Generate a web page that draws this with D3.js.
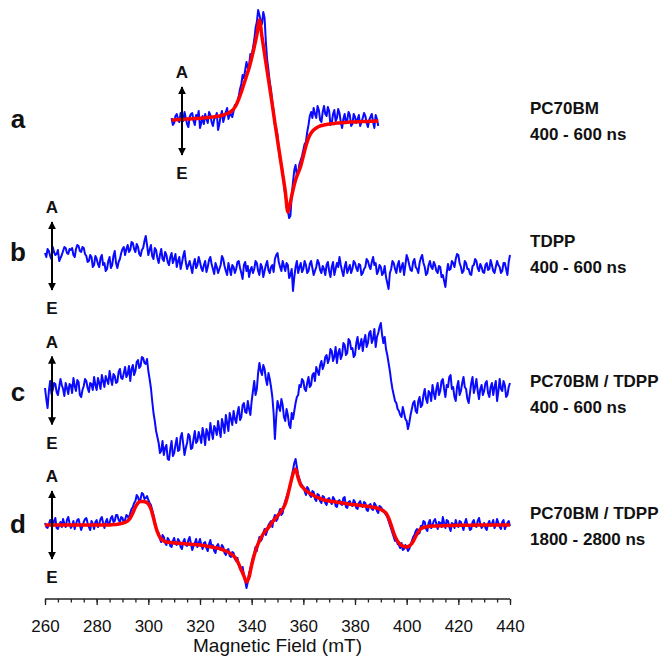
<!DOCTYPE html>
<html>
<head>
<meta charset="utf-8">
<script src="https://cdnjs.cloudflare.com/ajax/libs/d3/7.8.5/d3.min.js"></script>
<style>
body { margin: 0; background: #fff; }
svg { display: block; }
text { font-family: "Liberation Sans", Arial, Helvetica, sans-serif; fill: #111; }
</style>
</head>
<body>
<div id="chart"></div>
<script>
var w = 666, h = 657;

// field axis (mT)
var fieldMin = 260, fieldMax = 440;
var majorTicks = [260, 280, 300, 320, 340, 360, 380, 400, 420, 440];
var startA = 309;      // first field point of trace a
var startBCD = 260;    // first field point of traces b, c, d
var stepBlue = 0.5;    // measured traces, mT per point
var stepRed = 1;       // fits, mT per point

// trEPR signal, arbitrary units (positive = absorption)
var blueA = [2,-5,-3,4,6,1,-2,7,4,-1, 8,2,-4,-7,3,6,7,-1,-5,5,
    2,9,-8,-3,4,-4,6,1,-3,8, 5,-2,-6,1,3,7,-10,-4,4,9,
    -2,3,8,12,1,5,6,3,9,15, 14,18,24,31,36,45,42,50,58,52,
    55,66,64,72,80,92,98,110,105,99, 96,108,102,78,60,50,38,30,18,8,
    -5,-8,-15,-30,-40,-44,-52,-66,-75,-80, -90,-98,-96,-75,-62,-50,-45,-56,-52,-44,
    -40,-36,-30,-24,-22,-12,-5,4,8,2, 12,6,2,14,10,0,-2,8,14,6,
    4,13,9,-5,-3,6,10,-1,2,11, 7,-2,-8,1,6,-3,0,8,5,-6,
    -4,6,3,-3,1,5,-6,-2,2,7, 4,-3,-7,0,3,6,-2,-8,5,1, -6];
var redA = [0,0,0.3,0.5,0.6,0.8,1,1,1.2,1.4, 1.5,1.7,2,2.2,2.5,2.8,3,3.4,3.8,4.3,
    5,5.8,7,8.5,11,15,21,28,36,44, 52,62,73,85,100,83,66,49,32,15,
    -3,-20,-37,-54,-71,-92,-82,-70,-60,-53, -46,-36,-26,-18,-13,-10,-8,-6.5,-5.5,-5,
    -4.5,-4,-3.7,-3.4,-3.1,-2.9,-2.7,-2.5,-2.3,-2.1, -2,-1.9,-1.8,-1.7,-1.6,-1.5,-1.4,-1.3,-1.2,-1.1, -1];
var blueB = [0,-4,4,2,-3,-6,6,1,-2,-1,3,-8,-5,-2,2,6,5,0,-1,4,
    3,5,-2,-4,4,8,7,2,1,6,5,-1,-3,-9,-8,-2,-4,-14,-12,-3,
    -6,-11,-14,-5,-2,-12,-10,-18,-16,-8,-4,-15,-12,-3,2,-10,-15,-9,-6,0,
    4,6,-2,4,8,1,3,11,10,4,1,9,6,-1,-3,3,5,12,17,8,
    -2,3,8,-3,-6,5,3,-5,-10,-2,4,-6,-8,1,-2,-9,-12,-4,0,-10,
    -6,-1,-14,-8,-4,-16,-10,-3,2,-9,-16,-12,-8,-14,-20,-11,-6,-15,-12,-4,
    -9,-15,-18,-12,-8,-19,-14,-7,-4,-11,-16,-21,-10,-14,-20,-16,-12,-3,-6,-13,
    -18,-22,-10,-16,-22,-12,-14,-20,-16,-9,-8,-15,-20,-26,-12,-9,-18,-13,-24,-17,
    -14,-20,-16,-8,-10,-18,-22,-11,-14,-24,-18,-12,-8,-17,-20,-14,-12,-19,-6,-2,
    0,-9,-14,-18,-8,-13,-18,-10,-12,-25,-22,-16,-38,-24,-14,-8,-20,-14,-10,-19,
    -16,-8,-12,-20,-18,-11,-8,-15,-22,-18,-14,-7,-10,-17,-20,-13,-16,-22,-12,-9,
    -18,-24,-14,-9,-22,-16,-10,-14,-4,-12,-18,-23,-14,-9,-20,-16,-12,-20,-16,-8,
    -10,-15,-18,-11,-12,-22,-20,-16,-14,-6,-8,-13,-16,-9,-4,-12,-10,-21,-18,-12,
    -14,-22,-20,-13,-24,-30,-36,-20,-16,-8,-10,-16,-20,-12,-8,-19,-14,-10,-22,-12,
    -2,-6,-12,-17,-18,-9,-6,-14,-16,-20,-10,-5,-2,-10,-14,-22,-20,-12,-8,-14,
    -16,-9,-12,-18,-20,-13,-14,-24,-22,-28,-34,-20,-11,-17,-16,-8,-10,-14,-6,-1,
    -2,-10,-14,-20,-18,-8,-10,-16,-16,-21,-22,-13,-12,-6,-8,-15,-18,-11,-14,-19,
    -20,-12,-10,-17,-16,-7,-12,-18,-20,-14,-8,-12,-14,-20,-18,-10,-10,-16,-22,-9,
    -2];
var blueC = [5,-6,-15,2,12,-1,3,10,9,1,-2,6,14,8,4,-3,10,5,-1,9,
    8,0,15,7,2,13,11,-2,-4,3,7,14,12,5,1,10,9,3,16,8,
    3,15,10,4,18,12,6,17,13,9,22,14,8,19,17,10,11,21,24,15,
    14,20,26,16,19,27,12,24,28,18,22,31,33,25,27,36,35,30,29,34,
    22,14,5,-8,-20,-28,-38,-44,-50,-60,-58,-48,-62,-55,-52,-66,-67,-56,-48,-63,
    -60,-52,-45,-58,-57,-44,-40,-51,-62,-55,-50,-41,-43,-56,-55,-46,-38,-50,-48,-39,
    -44,-50,-35,-42,-52,-36,-40,-47,-30,-39,-46,-33,-36,-42,-28,-37,-44,-26,-32,-40,
    -22,-30,-38,-20,-26,-32,-18,-26,-30,-20,-14,-27,-24,-12,-10,-19,-20,-8,-16,-22,
    -8,2,12,-2,4,20,30,22,18,28,24,14,8,20,14,6,-4,-20,-46,-24,
    -8,-14,-18,-6,-12,-24,-28,-16,-22,-32,-35,-20,-26,-18,-10,-4,-2,8,6,14,
    12,4,2,10,16,6,8,18,20,12,26,22,18,28,32,24,28,36,38,30,
    34,44,42,32,36,46,30,40,44,34,38,50,48,38,40,54,52,44,45,36,
    38,50,56,44,48,54,42,52,58,46,50,60,62,50,54,64,46,56,60,66,
    70,58,50,56,44,38,30,22,12,4,-2,-8,-10,-16,-18,-22,-24,-14,-20,-26,
    -28,-36,-30,-22,-16,-10,-8,-18,-20,-8,-4,-14,-12,-2,4,-6,-10,2,0,-8,
    8,0,-6,4,10,-2,2,12,14,4,-4,8,6,16,18,4,6,-4,-8,6,
    12,-2,2,10,16,6,4,-6,-10,0,10,16,0,6,14,2,-6,4,8,-2,
    2,10,12,0,-4,6,10,-2,6,12,-8,2,14,4,2,12,8,-4,-2,6,
    10];
var blueD = [2,-2,-3,1,5,2,-1,4,7,-3,-4,0,3,-2,6,1,-2,5,8,2,
    -3,-1,4,-4,1,5,6,0,-5,-1,3,6,7,2,-2,-5,4,1,-4,3,
    5,-2,1,6,8,2,-3,3,6,0,2,7,9,3,4,10,10,5,3,8,
    7,2,5,10,9,6,12,16,18,22,24,30,28,23,26,32,31,26,27,29,
    25,22,20,15,10,3,-2,-6,-8,-14,-17,-10,-12,-18,-20,-13,-15,-21,-22,-16,
    -13,-19,-20,-14,-16,-22,-24,-17,-14,-20,-21,-15,-12,-19,-25,-21,-18,-14,-22,-18,
    -14,-20,-24,-18,-17,-23,-26,-19,-15,-22,-20,-26,-28,-21,-19,-24,-25,-20,-22,-28,
    -30,-25,-24,-31,-32,-27,-28,-34,-36,-33,-40,-44,-46,-42,-50,-56,-63,-57,-48,-44,
    -38,-32,-28,-22,-26,-18,-12,-16,-14,-8,-4,-10,-6,0,2,4,-2,6,10,4,
    6,12,16,10,12,20,24,28,32,36,40,48,55,62,66,58,50,46,42,40,
    38,34,30,38,36,30,28,34,33,26,24,31,30,24,22,29,28,22,20,26,
    27,23,21,28,26,19,18,24,25,21,20,27,28,18,17,23,24,20,19,25,
    23,17,16,22,24,19,18,23,22,15,14,20,21,16,15,22,20,14,12,19,
    18,16,15,12,10,8,4,0,-4,-8,-12,-16,-14,-19,-20,-23,-18,-25,-24,-20,
    -22,-26,-24,-20,-16,-12,-10,-6,-4,-9,-8,-1,-2,4,3,-4,-6,2,5,-3,
    0,4,6,1,-4,3,2,-2,8,2,-3,5,4,-2,-6,2,1,-3,5,0,
    -2,4,3,-1,-5,2,6,0,0,-5,-4,3,5,-1,-2,4,7,1,-3,-1,
    2,-3,-5,1,4,-1,1,5,-3,0,6,2,-2,-4,3,5,-4,-1,2,4,
    -1];
var redD = [0,0,0,0,0,0,0,0,0,0, 0,0,0,0,0,0,0,0,0,0,
    0,0,0,0,0,0,0.3,0.5,0.8,1.2, 1.8,2.6,4,7,12,18,22,23.5,23.5,23,
    21,16,7,-3,-10,-14,-16,-17,-17.3,-17.6, -17.9,-18.1,-18.3,-18.5,-18.7,-18.9,-19.2,-19.4,-19.6,-19.8,
    -20,-20.4,-20.8,-21.2,-21.7,-22.2,-22.7,-23.3,-24,-25, -26,-27.2,-28.8,-31,-34,-39,-45,-51,-57,-52,
    -40,-30,-22,-16,-11,-7,-4,-1,3,6, 9,12,16,21,30,41,51,56,47,40,
    37,34.5,32.5,31,29.5,28,27,26,25,24.5, 24,23.6,23.2,22.8,22.4,22,21.6,21.2,20.8,20.5,
    20.2,19.9,19.6,19.3,19,18.6,18.2,17.8,17.3,16.5, 15.5,14,12,7,0,-8,-14,-18,-20.5,-21.5,
    -22,-21,-18.5,-14,-9,-5,-3,-2,-1.6,-1.3, -1.1,-1,-0.9,-0.8,-0.7,-0.6,-0.5,-0.5,-0.4,-0.4,
    -0.3,-0.3,-0.3,-0.2,-0.2,-0.2,-0.2,-0.1,-0.1,-0.1, 0,0,0,0,0,0,0,0,0,0, 0];

var panelLetters = ["a", "b", "c", "d"];
var sampleNames = ["PC70BM", "TDPP", "PC70BM / TDPP", "PC70BM / TDPP"];
var timeWindows = ["400 - 600 ns", "400 - 600 ns", "400 - 600 ns", "1800 - 2800 ns"];

function toPoints(vals, start, step) {
    return vals.map(function(v, i) { return { f: start + i * step, v: v }; });
}

var panels = [
    { blue: toPoints(blueA, startA, stepBlue), red: toPoints(redA, startA, stepRed) },
    { blue: toPoints(blueB, startBCD, stepBlue), red: null },
    { blue: toPoints(blueC, startBCD, stepBlue), red: null },
    { blue: toPoints(blueD, startBCD, stepBlue), red: toPoints(redD, startBCD, stepRed) }
];

// layout
var base = [120, 253, 393, 525];
var arrowX = [182, 52, 52, 52];
var arrowMid = [121, 256, 390.5, 525];
var arrowHalf = 34;
var axisY = 599;

var svg = d3.select("#chart")
    .append("svg")
    .attr("width", w)
    .attr("height", h);

svg.append("defs")
    .append("marker")
    .attr("id", "head")
    .attr("viewBox", "0 0 10 10")
    .attr("refX", 9)
    .attr("refY", 5)
    .attr("markerUnits", "userSpaceOnUse")
    .attr("markerWidth", 8)
    .attr("markerHeight", 8)
    .attr("orient", "auto-start-reverse")
    .append("path")
    .attr("d", "M0,0 L10,5 L0,10 z")
    .attr("fill", "#000");

var x = d3.scaleLinear()
    .domain([fieldMin, fieldMax])
    .range([45, 510]);

panels.forEach(function(p, i) {
    var y = d3.scaleLinear()
        .domain([-100, 100])
        .range([base[i] + 100, base[i] - 100]);
    var line = d3.line()
        .x(function(d) { return x(d.f); })
        .y(function(d) { return y(d.v); });

    var g = svg.append("g").attr("class", "panel");

    g.append("path")
        .datum(p.blue)
        .attr("d", line)
        .attr("fill", "none")
        .attr("stroke", "#0a0aff")
        .attr("stroke-width", 2)
        .attr("stroke-linejoin", "round");

    if (p.red) {
        g.append("path")
            .datum(p.red)
            .attr("d", line.curve(d3.curveMonotoneX))
            .attr("fill", "none")
            .attr("stroke", "#ff0000")
            .attr("stroke-width", 3.5)
            .attr("stroke-linejoin", "round");
    }

    // A / E arrow
    g.append("line")
        .attr("x1", arrowX[i]).attr("x2", arrowX[i])
        .attr("y1", arrowMid[i] - arrowHalf)
        .attr("y2", arrowMid[i] + arrowHalf)
        .attr("stroke", "#000")
        .attr("stroke-width", 2)
        .attr("marker-start", "url(#head)")
        .attr("marker-end", "url(#head)");
    g.append("text")
        .attr("x", arrowX[i])
        .attr("y", arrowMid[i] - arrowHalf - 9)
        .attr("text-anchor", "middle")
        .style("font-size", "17px")
        .style("font-weight", "bold")
        .text("A");
    g.append("text")
        .attr("x", arrowX[i])
        .attr("y", arrowMid[i] + arrowHalf + 24)
        .attr("text-anchor", "middle")
        .style("font-size", "17px")
        .style("font-weight", "bold")
        .text("E");

    g.append("text")
        .attr("x", 18)
        .attr("y", base[i] + 8)
        .attr("text-anchor", "middle")
        .style("font-size", "26px")
        .style("font-weight", "bold")
        .text(panelLetters[i]);

    g.append("text")
        .attr("x", 530)
        .attr("y", base[i] - 6)
        .style("font-size", "17px")
        .style("font-weight", "bold")
        .text(sampleNames[i]);
    g.append("text")
        .attr("x", 530)
        .attr("y", base[i] + 20)
        .style("font-size", "17px")
        .style("font-weight", "bold")
        .text(timeWindows[i]);
});

// x axis: minor ticks every 5 mT, labelled every 20 mT
var minorAxis = d3.axisBottom(x)
    .tickValues(d3.range(fieldMin, fieldMax + 1, 5))
    .tickSize(3.5)
    .tickFormat("");
var majorAxis = d3.axisBottom(x)
    .tickValues(majorTicks)
    .tickSize(6)
    .tickFormat(d3.format("d"));

svg.append("g")
    .attr("transform", "translate(0," + axisY + ")")
    .call(minorAxis)
    .call(function(g) {
        g.select(".domain").remove();
        g.selectAll(".tick line").attr("stroke", "#222").attr("stroke-width", 1.3);
    });
svg.append("g")
    .attr("transform", "translate(0," + axisY + ")")
    .call(majorAxis)
    .call(function(g) {
        g.select(".domain").attr("stroke", "#222").attr("stroke-width", 1.5)
            .attr("d", "M" + x(fieldMin) + ",0H" + x(fieldMax));
        g.selectAll(".tick line").attr("stroke", "#222").attr("stroke-width", 1.3);
        g.selectAll(".tick text")
            .attr("y", 21)
            .attr("fill", "#111")
            .style("font-size", "17px")
            .style("font-family", "'Liberation Sans', Arial, sans-serif");
    });

svg.append("text")
    .attr("x", (x(fieldMin) + x(fieldMax)) / 2)
    .attr("y", 652)
    .attr("text-anchor", "middle")
    .style("font-size", "19px")
    .text("Magnetic Field (mT)");
</script>
</body>
</html>
